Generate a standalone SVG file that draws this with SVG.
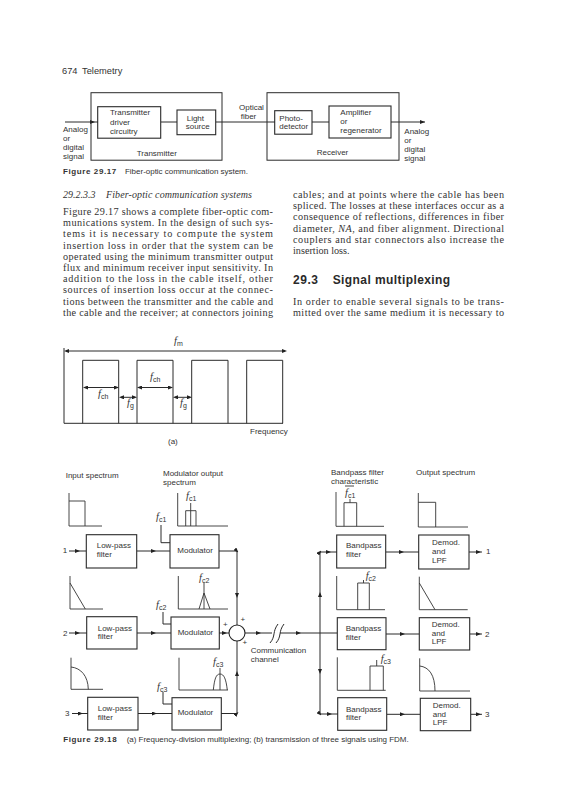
<svg xmlns="http://www.w3.org/2000/svg" width="569" height="800" viewBox="0 0 569 800">
<style>
text{font-family:"Liberation Sans",Arial,sans-serif;font-size:8px;fill:#333}
.b{font-family:"Liberation Serif","Times New Roman",serif;font-size:10.2px;fill:#333}
.i{font-family:"Liberation Serif","Times New Roman",serif;font-size:10px;font-style:italic;fill:#333}
.cap{font-weight:bold;font-size:8px;letter-spacing:.6px}
.h{font-weight:bold;font-size:12px;letter-spacing:.55px;fill:#2a2a2a}
.f{font-family:"Liberation Serif","Times New Roman",serif;font-style:italic;font-size:10.5px}
.s{font-family:"Liberation Sans",Arial,sans-serif;font-style:normal;font-size:7px}
rect,.l{fill:none;stroke:#2a2a2a;stroke-width:1}
.box{stroke-width:1.1}
.t{fill:none;stroke:#333;stroke-width:.9}
.a{marker-mid:url(#ah)}
.e{marker-end:url(#ah)}
.d{marker-start:url(#as);marker-end:url(#ah)}
</style>
<defs>
<marker id="ah" markerUnits="userSpaceOnUse" markerWidth="5" markerHeight="4" refX="3" refY="2" orient="auto"><path d="M0 0L5 2L0 4z" fill="#222"/></marker>
<marker id="as" markerUnits="userSpaceOnUse" markerWidth="5" markerHeight="4" refX="3" refY="2" orient="auto-start-reverse"><path d="M0 0L5 2L0 4z" fill="#222"/></marker>
</defs>
<rect x="0" y="0" width="569" height="800" style="fill:#fff;stroke:none"/>

<text x="62" y="74" style="font-size:9.3px">674</text>
<text x="82" y="74" style="font-size:9.3px">Telemetry</text>

<g id="connectors">
<path class="l a" d="M65 122L93 122L98 122"/>
<path class="l" d="M161 122H177"/>
<path class="l" d="M216 122H275"/>
<path class="l" d="M312 122H329"/>
<path class="l a" d="M391 122L423 122L425 122"/>

<path class="l d" d="M66 351H285"/>
<path class="l d" d="M85 387.5H117"/>
<path class="l d" d="M139 387.5H171"/>
<path class="l d" d="M121 397.3H135"/>
<path class="l d" d="M175 397.3H190"/>

<path class="l a" d="M69 551L78 551L86 551"/>
<path class="l a" d="M137 551L154 551L170 551"/>
<path class="l" d="M161 525V542.7H170"/>
<path class="l a" d="M219 551H237V596V625"/>
<path class="l a" d="M69 633L78 633L87 633"/>
<path class="l a" d="M137 633L154 633L171 633"/>
<path class="l" d="M163 612V624H171"/>
<path class="l a" d="M219 633L225 633L229 633"/>
<path class="l a" d="M72 713.5L81 713.5L88 713.5"/>
<path class="l a" d="M138 713.5L155 713.5L172 713.5"/>
<path class="l" d="M163 692V704H172"/>
<path class="l a" d="M221 713.5H237V673V641"/>
<path class="l a" d="M245 633L259 633L272 633"/>
<path class="l" d="M270 643C276 636 272 632 278 624M276 643C282 636 278 632 284 624"/>
<path class="l a" d="M280 633L299 633L337 633"/>
<path class="l a" d="M320 633V594V552L329 552L337 552"/>
<path class="l a" d="M320 633V672V714L330 714L338 714"/>
<path class="l a" d="M386 552L402 552L419 552"/>
<path class="l a" d="M386 634L403 634L419 634"/>
<path class="l a" d="M387 714.3L403 714.3L420 714.3"/>
<path class="l a" d="M469 552L479 552L482 552"/>
<path class="l a" d="M470 634L479 634L482 634"/>
<path class="l a" d="M471 714.3L479 714.3L482 714.3"/>
</g>

<g id="input-label"><text x="63" y="132">Analog</text><text x="63" y="141">or</text><text x="63" y="149.7">digital</text><text x="63" y="158.7">signal</text></g>
<g id="transmitter"><rect x="91" y="92.7" width="131" height="67.5"/><text x="136.7" y="156">Transmitter</text></g>
<g id="driver"><rect class="box" x="97.7" y="106.7" width="63" height="31.5"/><text x="110" y="115.3">Transmitter</text><text x="110" y="124.7">driver</text><text x="110" y="134">circuitry</text></g>
<g id="light"><rect class="box" x="177" y="110" width="38.7" height="24.7"/><text x="186.7" y="120.7">Light</text><text x="185.7" y="129.3">source</text></g>
<g id="fiber-label"><text x="239" y="110">Optical</text><text x="240.7" y="119">fiber</text></g>
<g id="receiver"><rect x="267" y="92.7" width="132" height="67.5"/><text x="316.7" y="154.7">Receiver</text></g>
<g id="photo"><rect class="box" x="274.7" y="110.7" width="37.3" height="23.5"/><text x="279.3" y="120.5">Photo-</text><text x="279.3" y="129.3">detector</text></g>
<g id="amp"><rect class="box" x="329" y="106" width="62" height="32"/><text x="340.3" y="115">Amplifier</text><text x="340.3" y="124.3">or</text><text x="340.3" y="133.3">regenerator</text></g>
<g id="output-label"><text x="404.3" y="134.3">Analog</text><text x="404.3" y="143.3">or</text><text x="404.3" y="152">digital</text><text x="404.3" y="161">signal</text></g>

<text class="cap" x="63" y="174">Figure 29.17</text>
<text x="125" y="174" textLength="123" lengthAdjust="spacing">Fiber-optic communication system.</text>

<text class="i" x="63" y="198">29.2.3.3</text>
<text class="i" x="106" y="198" textLength="146" lengthAdjust="spacing">Fiber-optic communication systems</text>
<g>
<text class="b" x="63" y="215" textLength="210">Figure 29.17 shows a complete fiber-optic com-</text>
<text class="b" x="63" y="226.2" textLength="210">munications system. In the design of such sys-</text>
<text class="b" x="63" y="237.4" textLength="210">tems it is necessary to compute the system</text>
<text class="b" x="63" y="248.6" textLength="210">insertion loss in order that the system can be</text>
<text class="b" x="63" y="259.8" textLength="210">operated using the minimum transmitter output</text>
<text class="b" x="63" y="271" textLength="210">flux and minimum receiver input sensitivity. In</text>
<text class="b" x="63" y="282.2" textLength="210">addition to the loss in the cable itself, other</text>
<text class="b" x="63" y="293.4" textLength="210">sources of insertion loss occur at the connec-</text>
<text class="b" x="63" y="304.6" textLength="210">tions between the transmitter and the cable and</text>
<text class="b" x="63" y="315.8" textLength="210">the cable and the receiver; at connectors joining</text>
<text class="b" x="293" y="198" textLength="211">cables; and at points where the cable has been</text>
<text class="b" x="293" y="209.2" textLength="211">spliced. The losses at these interfaces occur as a</text>
<text class="b" x="293" y="220.4" textLength="211">consequence of reflections, differences in fiber</text>
<text class="b" x="293" y="231.6" textLength="211">diameter, <tspan font-style="italic">NA</tspan>, and fiber alignment. Directional</text>
<text class="b" x="293" y="242.8" textLength="211">couplers and star connectors also increase the</text>
<text class="b" x="293" y="254">insertion loss.</text>
<text class="h" x="293" y="284">29.3</text>
<text class="h" x="332.7" y="284" textLength="118" lengthAdjust="spacing">Signal multiplexing</text>
<text class="b" x="293" y="305" textLength="211">In order to enable several signals to be trans-</text>
<text class="b" x="293" y="316.4" textLength="211">mitted over the same medium it is necessary to</text>
</g>

<g id="fdm-spectrum">
<path class="l" d="M64 348V423.3H283"/>
<path class="l" d="M82.7 423.3V360.3H118.7V423.3M137 423.3V360.3H173V423.3M191.7 423.3V360.3H228V423.3M246.7 423.3V360.3H282.7V423.3"/>
<text class="f" x="174" y="344">f<tspan class="s" dy="2">m</tspan></text>
<text class="f" x="98" y="396.7">f<tspan class="s" dy="2">ch</tspan></text>
<text class="f" x="150" y="380">f<tspan class="s" dy="2">ch</tspan></text>
<text class="f" x="127" y="406">f<tspan class="s" dy="2">g</tspan></text>
<text class="f" x="180" y="406">f<tspan class="s" dy="2">g</tspan></text>
<text x="250" y="434">Frequency</text>
<text x="168" y="444">(a)</text>
</g>

<g id="titles">
<text x="65.7" y="478">Input spectrum</text>
<text x="163" y="475.7">Modulator output</text><text x="163" y="485">spectrum</text>
<text x="331" y="474.7">Bandpass filter</text><text x="331" y="483.7">characteristic</text>
<text x="416" y="475">Output spectrum</text>
</g>

<g id="spec-in1"><path class="t" d="M69 493V526H102M69 501H85V526"/></g>
<g id="spec-mod1"><path class="t" d="M177.7 493V526H228M185.7 526V510.7H196V526M190.7 510.7V526M190.7 510.7V503"/><text class="f" x="186" y="499">f<tspan class="s" dy="2">c1</tspan></text></g>
<g id="spec-bp1"><path class="t" d="M336 492V526.3H384M344 526.3V502.7H356.7V526.3M350 502.7V499"/><path class="t" d="M345 486H354"/><text class="f" x="345" y="496">f<tspan class="s" dy="2">c1</tspan></text></g>
<g id="spec-out1"><path class="t" d="M418.3 493V527H468M418.3 502.3H435.7V527"/></g>

<g id="spec-in2"><path class="t" d="M70 576V609H103M70 583L85.3 609"/></g>
<g id="spec-mod2"><path class="t" d="M178.3 576V609H228M199 609L204 593L210 609M204 583V609"/><text class="f" x="199" y="580.7">f<tspan class="s" dy="2">c2</tspan></text></g>
<g id="spec-bp2"><path class="t" d="M336.7 576V609.7H385M357.7 609.7V583H369.3V609.7M363.5 583V580"/><text class="f" x="365.7" y="579">f<tspan class="s" dy="2">c2</tspan></text></g>
<g id="spec-out2"><path class="t" d="M419.3 576.7V609.7H467.7M419.3 583L435 609.7"/></g>

<g id="spec-in3"><path class="t" d="M71 657.7V689.3H103M71 667C81 668 88 676 88.3 689.3"/></g>
<g id="spec-mod3"><path class="t" d="M179 657.7V690H228M213.3 690C214.5 679 216 674 220 674C224 674 226 679 227.3 690M220 668V690"/><text class="f" x="213" y="665">f<tspan class="s" dy="2">c3</tspan></text></g>
<g id="spec-bp3"><path class="t" d="M337.3 657.3V690.3H385.7M370 690.3V666H383.3V690.3M376.7 666V660"/><text class="f" x="380.7" y="662">f<tspan class="s" dy="2">c3</tspan></text></g>
<g id="spec-out3"><path class="t" d="M419.7 658.3V691H470M419.7 666C429 667 435 675 435 691"/></g>

<g id="in1"><text x="62.7" y="553">1</text></g>
<g id="lp1"><rect class="box" x="86.3" y="534.7" width="50.4" height="33.3"/><text x="96.7" y="548.3">Low-pass</text><text x="96.7" y="556.7">filter</text></g>
<g id="mod1"><rect class="box" x="170" y="534.7" width="49" height="33.3"/><text x="177.3" y="553.3">Modulator</text></g>
<g id="fc1"><text class="f" x="156" y="520">f<tspan class="s" dy="2">c1</tspan></text></g>
<g id="bp1"><rect class="box" x="336.7" y="535" width="49" height="33"/><text x="346" y="548.3">Bandpass</text><text x="346" y="557">filter</text></g>
<g id="dem1"><rect class="box" x="418.7" y="535" width="50.3" height="34"/><text x="432" y="545">Demod.</text><text x="432" y="554">and</text><text x="432" y="563">LPF</text></g>
<g id="out1"><text x="486" y="554">1</text></g>

<g id="in2"><text x="63" y="636">2</text></g>
<g id="lp2"><rect class="box" x="86.7" y="616.7" width="50.3" height="32.3"/><text x="97.7" y="630.7">Low-pass</text><text x="97.7" y="639">filter</text></g>
<g id="mod2"><rect class="box" x="171" y="617" width="48.3" height="32"/><text x="177.7" y="634.7">Modulator</text></g>
<g id="fc2"><text class="f" x="156" y="607.7">f<tspan class="s" dy="2">c2</tspan></text></g>
<g id="sum"><circle cx="237" cy="633" r="8" fill="#fff" stroke="#222" stroke-width="1.1"/><text x="223" y="627">+</text><text x="240.5" y="622">+</text><text x="242.5" y="645">+</text></g>
<g id="channel"><text x="250.7" y="653">Communication</text><text x="250.7" y="661.7">channel</text></g>
<g id="bp2"><rect class="box" x="337.3" y="617.7" width="48.7" height="32"/><text x="345.7" y="631">Bandpass</text><text x="345.7" y="640">filter</text></g>
<g id="dem2"><rect class="box" x="419.3" y="617.7" width="50.4" height="32.3"/><text x="431.7" y="627.3">Demod.</text><text x="431.7" y="636">and</text><text x="431.7" y="644.3">LPF</text></g>
<g id="out2"><text x="485" y="637">2</text></g>

<g id="in3"><text x="65" y="716">3</text></g>
<g id="lp3"><rect class="box" x="87.7" y="697.3" width="50.3" height="32.7"/><text x="97.7" y="711">Low-pass</text><text x="97.7" y="720">filter</text></g>
<g id="mod3"><rect class="box" x="172" y="697.7" width="49.3" height="32.3"/><text x="177.7" y="715.3">Modulator</text></g>
<g id="fc3"><text class="f" x="157" y="690">f<tspan class="s" dy="2">c3</tspan></text></g>
<g id="bp3"><rect class="box" x="337.7" y="697.7" width="49" height="32.6"/><text x="346" y="711.7">Bandpass</text><text x="346" y="720">filter</text></g>
<g id="dem3"><rect class="box" x="420.3" y="698.3" width="50.4" height="32.4"/><text x="432.7" y="708.3">Demod.</text><text x="432.7" y="716.7">and</text><text x="432.7" y="725">LPF</text></g>
<g id="out3"><text x="485" y="717">3</text></g>

<text class="cap" x="63.3" y="742">Figure 29.18</text>
<text x="126.7" y="742" textLength="282" lengthAdjust="spacing">(a) Frequency-division multiplexing; (b) transmission of three signals using FDM.</text>
</svg>
